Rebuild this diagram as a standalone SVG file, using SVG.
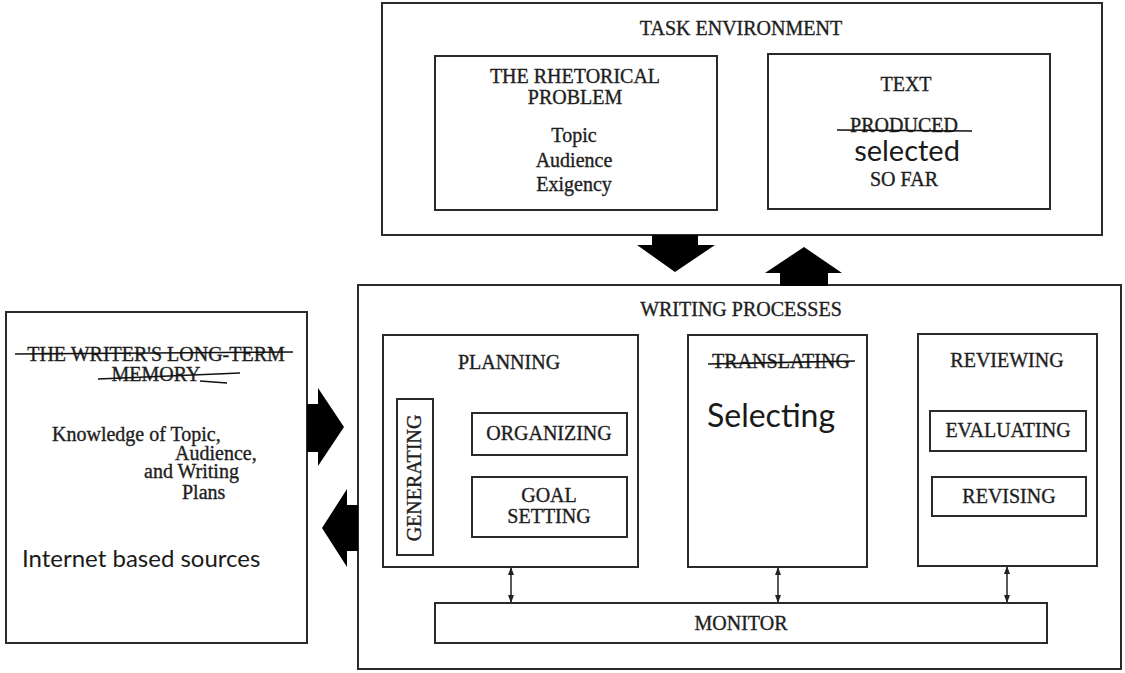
<svg xmlns="http://www.w3.org/2000/svg" width="1125" height="673" viewBox="0 0 1125 673">
<defs>
<style>
.box{fill:none;stroke:#2a2a2a;stroke-width:2}
.ser{font-family:"Liberation Serif","Times New Roman",serif;font-size:20px;fill:#1e1e1e;stroke:#1e1e1e;stroke-width:0.35}
.mid{text-anchor:middle}
.cal{font-family:Lato,"Open Sans",sans-serif;fill:#1a1a1a}
.strike{fill:none;stroke:#111;stroke-width:1.6}
.arrow{fill:#000}
.link{stroke:#222;stroke-width:1.5;fill:none;marker-start:url(#ah);marker-end:url(#ah)}
</style>
<marker id="ah" viewBox="0 0 8 8" refX="7" refY="4" markerWidth="8" markerHeight="8" markerUnits="userSpaceOnUse" orient="auto-start-reverse">
<path d="M0,1 L8,4 L0,7 Z" fill="#222"/>
</marker>
</defs>
<rect width="1125" height="673" fill="#fff"/>

<g id="task-environment">
<rect class="box" x="382" y="3" width="720" height="232"/>
<text class="ser mid" x="741" y="35">TASK ENVIRONMENT</text>
</g>
<g id="rhetorical-problem">
<rect class="box" x="435" y="56" width="282" height="154"/>
<text class="ser mid" x="575" y="83">THE RHETORICAL</text>
<text class="ser mid" x="575" y="104">PROBLEM</text>
<text class="ser mid" x="574" y="142">Topic</text>
<text class="ser mid" x="574" y="167">Audience</text>
<text class="ser mid" x="574" y="191">Exigency</text>
</g>
<g id="text-produced">
<rect class="box" x="768" y="54" width="282" height="155"/>
<text class="ser mid" x="906" y="91">TEXT</text>
<text class="ser mid" x="904" y="132">PRODUCED</text>
<line class="strike" x1="837" y1="130" x2="972" y2="131"/>
<text class="cal mid" x="907" y="161" font-size="29">selected</text>
<text class="ser mid" x="904" y="186">SO FAR</text>
</g>

<g id="long-term-memory">
<rect class="box" x="6" y="312" width="301" height="331"/>
<text class="ser mid" x="156" y="361">THE WRITER'S LONG-TERM</text>
<text class="ser mid" x="156" y="381">MEMORY</text>
<line class="strike" x1="15" y1="354" x2="293" y2="352"/>
<line class="strike" x1="98" y1="379" x2="240" y2="373"/>
<line class="strike" x1="200" y1="381" x2="227" y2="383"/>
<text class="ser" x="52" y="441">Knowledge of Topic,</text>
<text class="ser" x="175" y="460">Audience,</text>
<text class="ser" x="144" y="478">and Writing</text>
<text class="ser" x="182" y="499">Plans</text>
<text class="cal" x="22" y="567" font-size="24">Internet based sources</text>
</g>

<g id="writing-processes">
<rect class="box" x="358" y="285" width="763" height="384"/>
<text class="ser mid" x="741" y="316">WRITING PROCESSES</text>
</g>
<g id="planning">
<rect class="box" x="383" y="335" width="255" height="232"/>
<text class="ser mid" x="509" y="369">PLANNING</text>
</g>
<g id="generating">
<rect class="box" x="397" y="399" width="36" height="156"/>
<text class="ser mid" transform="translate(421,478) rotate(-90)" x="0" y="0">GENERATING</text>
</g>
<g id="organizing">
<rect class="box" x="472" y="413" width="155" height="42"/>
<text class="ser mid" x="549" y="440">ORGANIZING</text>
</g>
<g id="goal-setting">
<rect class="box" x="472" y="477" width="155" height="60"/>
<text class="ser mid" x="549" y="502">GOAL</text>
<text class="ser mid" x="549" y="523">SETTING</text>
</g>
<g id="translating">
<rect class="box" x="688" y="335" width="179" height="232"/>
<text class="ser mid" x="781" y="368">TRANSLATING</text>
<line class="strike" x1="708" y1="364" x2="855" y2="361"/>
<text class="cal" x="707" y="427" font-size="32">Selecting</text>
</g>
<g id="reviewing">
<rect class="box" x="918" y="334" width="179" height="232"/>
<text class="ser mid" x="1007" y="367">REVIEWING</text>
</g>
<g id="evaluating">
<rect class="box" x="930" y="411" width="156" height="40"/>
<text class="ser mid" x="1008" y="437">EVALUATING</text>
</g>
<g id="revising">
<rect class="box" x="932" y="477" width="154" height="39"/>
<text class="ser mid" x="1009" y="503">REVISING</text>
</g>
<g id="monitor">
<rect class="box" x="435" y="603" width="612" height="40"/>
<text class="ser mid" x="741" y="630">MONITOR</text>
</g>

<g id="connectors">
<polygon class="arrow" points="652,235 698,235 698,245 715,245 675,272 637,245 652,245"/>
<polygon class="arrow" points="780,286 828,286 828,273 842,273 804,247 765,273 780,273"/>
<polygon class="arrow" points="307,404 318,404 318,388 344,427 318,466 318,452 307,452"/>
<polygon class="arrow" points="358,505 347,505 347,489 322,528 347,567 347,551 358,551"/>
<line class="link" x1="511" y1="568" x2="511" y2="602"/>
<line class="link" x1="778" y1="568" x2="778" y2="602"/>
<line class="link" x1="1007" y1="567" x2="1007" y2="602"/>
</g>
</svg>
